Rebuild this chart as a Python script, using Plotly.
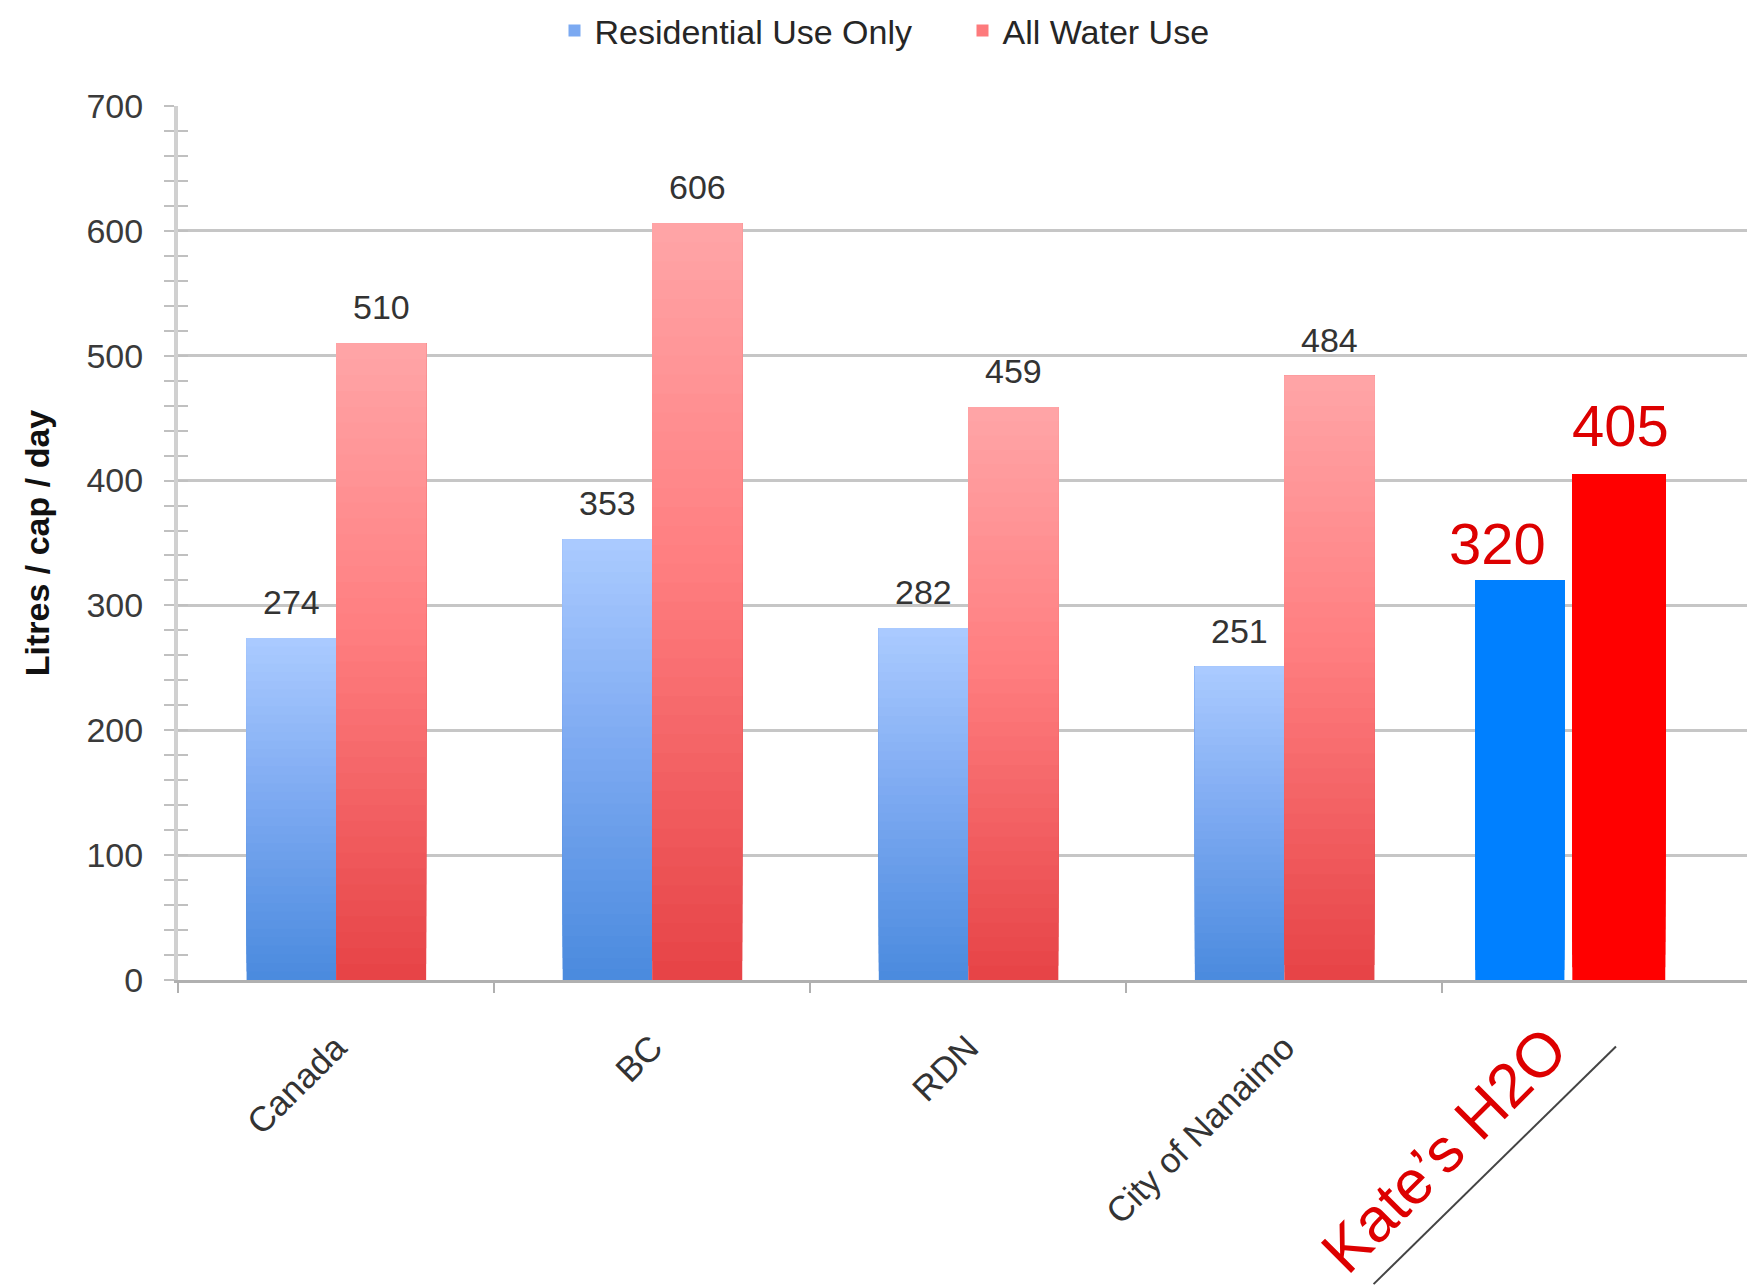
import plotly.graph_objects as go

# ---------------- data ----------------
categories = ["Canada", "BC", "RDN", "City of Nanaimo", "Kate’s H2O"]
residential = [274, 353, 282, 251, 320]
all_water = [510, 606, 459, 484, 405]
series_names = ["Residential Use Only", "All Water Use"]
y_tick_values = [0, 100, 200, 300, 400, 500, 600, 700]

# ---------------- styles ----------------
FONT = "Liberation Sans, Arial, sans-serif"
TEXT_COLOR = "#333333"
HIGHLIGHT_RED = "#dd0000"
N_SEG = 40  # gradient slices per bar

blue_stops = [(0.0, (74, 138, 222)), (0.55, (127, 171, 242)), (1.0, (171, 203, 255))]
red_stops = [(0.0, (230, 67, 70)), (0.55, (255, 126, 128)), (1.0, (255, 165, 167))]
kate_blue = "#0080ff"
kate_red = "#ff0000"

# bar offsets / widths (category units); last category is the hand-drawn pair
res_offset = [-0.283, -0.283, -0.283, -0.283, -0.396]
res_width = [0.283, 0.283, 0.283, 0.283, 0.282]
all_offset = [0.0, 0.0, 0.0, 0.0, -0.089]
all_width = [0.285, 0.285, 0.285, 0.285, 0.294]


def interp(stops, t):
    for (t0, c0), (t1, c1) in zip(stops[:-1], stops[1:]):
        if t0 <= t <= t1:
            f = (t - t0) / (t1 - t0)
            c = [round(a + (b - a) * f) for a, b in zip(c0, c1)]
            return "rgb(%d,%d,%d)" % tuple(c)
    c = stops[-1][1]
    return "rgb(%d,%d,%d)" % c


fig = go.Figure()

series = [
    (residential, blue_stops, kate_blue, res_offset, res_width, series_names[0]),
    (all_water, red_stops, kate_red, all_offset, all_width, series_names[1]),
]

n_cat = len(categories)
for si, (vals, stops, solid, offs, wids, name) in enumerate(series):
    for k in range(N_SEG):
        t = (k + 0.5) / N_SEG
        colors = [interp(stops, t)] * (n_cat - 1) + [solid]
        # each slice runs from its own base up to the bar's value, so later
        # (lighter) slices paint over the earlier ones -> seamless gradient
        last = (si == len(series) - 1 and k == N_SEG - 1)
        fig.add_trace(go.Bar(
            x=categories,
            y=[v - v * k / N_SEG for v in vals],
            base=[v * k / N_SEG for v in vals],
            offset=offs,
            width=wids,
            marker=dict(color=colors, line=dict(width=0)),
            name=name,
            legendgroup=name,
            showlegend=(k == N_SEG // 2),
            hoverinfo="skip",
            yaxis="y2" if last else "y",
        ))

annotations = []
# value labels for regular categories
for vals, offs, wids in [(residential, res_offset, res_width), (all_water, all_offset, all_width)]:
    for i in range(n_cat - 1):
        annotations.append(dict(
            x=i + offs[i] + wids[i] / 2, y=vals[i], xref="x", yref="y",
            text=str(vals[i]), showarrow=False, yanchor="middle", yshift=36,
            font=dict(family=FONT, size=34, color=TEXT_COLOR),
        ))

# hand-written style labels for the last category
k_i = n_cat - 1
annotations.append(dict(
    x=k_i - 0.326, y=residential[k_i], xref="x", yref="y",
    text=str(residential[k_i]), showarrow=False, yanchor="middle", yshift=37,
    font=dict(family=FONT, size=58, color=HIGHLIGHT_RED),
))
annotations.append(dict(
    x=k_i + 0.063, y=all_water[k_i], xref="x", yref="y",
    text=str(all_water[k_i]), showarrow=False, yanchor="middle", yshift=49,
    font=dict(family=FONT, size=58, color=HIGHLIGHT_RED),
))
annotations.append(dict(
    x=k_i - 0.495, y=-0.194, xref="x", yref="paper",
    text=categories[k_i], showarrow=False, textangle=-45,
    xanchor="center", yanchor="middle",
    font=dict(family=FONT, size=62, color=HIGHLIGHT_RED),
))

fig.update_layout(
    width=1747, height=1287,
    margin=dict(l=178, r=0, t=106, b=307),
    paper_bgcolor="white", plot_bgcolor="white",
    barmode="overlay",
    font=dict(family=FONT, color=TEXT_COLOR),
    legend=dict(
        orientation="h", x=0.5, xanchor="center", y=1.086, yanchor="middle",
        font=dict(family=FONT, size=34, color="#262626"),
        bgcolor="rgba(0,0,0,0)",
        entrywidth=363,
    ),
    annotations=annotations,
    shapes=[dict(
        type="line", xref="paper", yref="paper",
        x0=0.762, y0=-0.348, x1=0.9165, y1=-0.076,
        line=dict(color="#444444", width=2),
    )],
    xaxis=dict(
        type="category",
        range=[-0.5, 4.4636],
        tickmode="array", tickvals=categories,
        ticktext=categories[:-1] + [""],
        tickson="boundaries",
        ticks="outside", ticklen=10, tickwidth=2, tickcolor="#b0b0b0",
        tickangle=-45,
        ticklabelstandoff=30,
        tickfont=dict(family=FONT, size=35, color=TEXT_COLOR),
        showline=True, linecolor="#b0b0b0", linewidth=3,
        showgrid=False, zeroline=False,
    ),
    yaxis=dict(
        range=[0, 700],
        tickmode="array", tickvals=y_tick_values,
        ticks="outside", ticklen=10, tickwidth=2, tickcolor="#c0c0c0",
        ticklabelstandoff=14,
        tickfont=dict(family=FONT, size=34, color="#3a3a3a"),
        showgrid=True, gridcolor="#c6c6c6", gridwidth=3,
        showline=True, linecolor="#d0d0d0", linewidth=4,
        zeroline=False,
        minor=dict(dtick=20, ticks="outside", ticklen=10, tickwidth=2,
                   tickcolor="#c0c0c0", showgrid=False),
        title=dict(text="<b>Litres / cap / day</b>", standoff=28,
                   font=dict(family=FONT, size=34, color="#111111")),
    ),
    yaxis2=dict(
        overlaying="y", side="left", range=[0, 700],
        showticklabels=False, showgrid=False, zeroline=False, showline=False,
        tickmode="linear", tick0=0, dtick=20,
        ticks="inside", ticklen=10, tickwidth=2, tickcolor="#c0c0c0",
    ),
)

fig.write_html("out.html")
